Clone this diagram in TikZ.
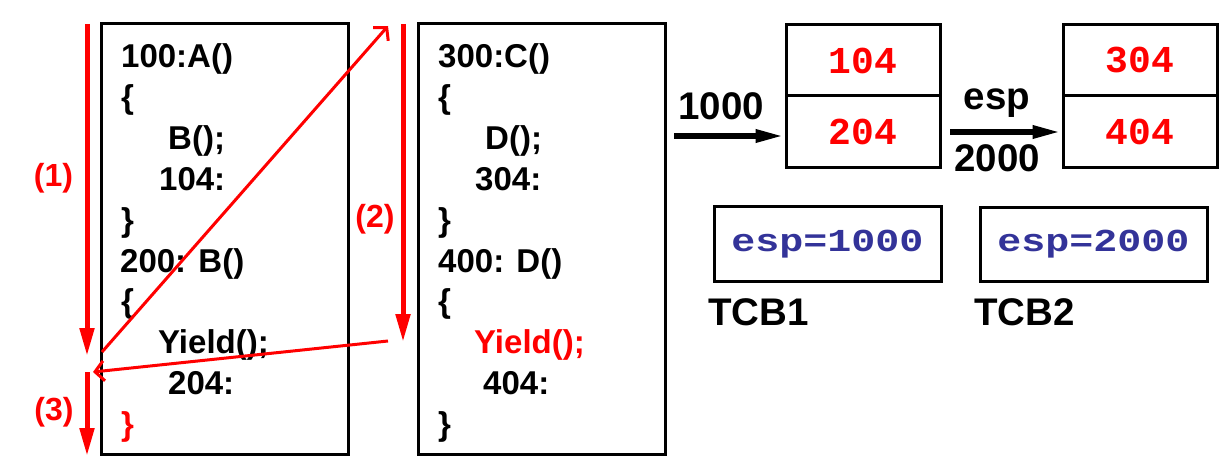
\documentclass[tikz,border=0pt]{standalone}
\usepackage{fontspec}
\setmainfont{Liberation Sans}
\setmonofont{Liberation Mono}
\usetikzlibrary{arrows.meta}
\definecolor{espblue}{RGB}{51,51,153}
\tikzset{
  code/.style={anchor=base west, inner sep=0pt, font=\fontsize{33}{33}\selectfont\bfseries},
  lbl/.style={inner sep=0pt, font=\fontsize{38.5}{38.5}\selectfont\bfseries},
  numlbl/.style={inner sep=0pt, text=red, font=\fontsize{32}{32}\selectfont\bfseries},
  codebox/.style={draw, line width=3pt},
  stackcell/.style={draw, line width=3pt, minimum width=154pt, inner sep=0pt, text=red,
    font=\fontsize{38}{38}\selectfont\ttfamily\bfseries},
  tcbbox/.style={draw, line width=3pt, minimum width=227pt, minimum height=74pt, inner sep=0pt,
    text=espblue, font=\fontsize{32}{32}\selectfont\ttfamily\bfseries},
  flowarrow/.style={draw=red, line width=5pt, -{Triangle[width=14pt,length=28pt]}},
  jumparrow/.style={draw=red, line width=3pt, -{Straight Barb[length=9pt,width=20pt,line width=3pt]}},
  esparrow/.style={draw=black, line width=6pt, -{Triangle[width=12pt,length=29pt]}},
}
\begin{document}
\begin{tikzpicture}[x=1pt,y=-1pt]
\useasboundingbox (0,0) rectangle (1231,465);

% code boxes
\node[codebox, minimum width=247pt, minimum height=430pt, inner sep=0pt] (box1) at (224.5,239) {};
\node[codebox, minimum width=247pt, minimum height=430pt, inner sep=0pt] (box2) at (541.5,239) {};

% code of box 1
\node[code] (a0) at (121,68) {100:A()};
\node[code] (a1) at (121,108.8) {\{};
\node[code] (a2) at (168,149.6) {B();};
\node[code] (a3) at (159,190.4) {104:};
\node[code] (a4) at (121,231.2) {\}};
\node[code] (a5) at (120,272) {200: B()};
\node[code] (a6) at (121,312.8) {\{};
\node[code] (a7) at (158,353.6) {Yield();};
\node[code] (a8) at (168,394.4) {204:};
\node[code, text=red] (a9) at (121,435.2) {\}};

% code of box 2
\node[code] (b0) at (438,68) {300:C()};
\node[code] (b1) at (438,108.8) {\{};
\node[code] (b2) at (485,149.6) {D();};
\node[code] (b3) at (475,190.4) {304:};
\node[code] (b4) at (438,231.2) {\}};
\node[code] (b5) at (438,272) {400: D()};
\node[code] (b6) at (438,312.8) {\{};
\node[code, text=red] (b7) at (474,353.6) {Yield();};
\node[code] (b8) at (483,394.4) {404:};
\node[code] (b9) at (438,435.2) {\}};

% flow arrows
\coordinate (f1s) at (87,24);  \coordinate (f1e) at (87,356);
\coordinate (f3s) at (87,372); \coordinate (f3e) at (87,456);
\coordinate (f2s) at (403,24); \coordinate (f2e) at (403,342);
\draw[flowarrow] (f1s) -- (f1e);
\draw[flowarrow] (f3s) -- (f3e);
\draw[flowarrow] (f2s) -- (f2e);
\node[numlbl] (n1) at (53.5,178) {(1)};
\node[numlbl] (n2) at (375,219) {(2)};
\node[numlbl] (n3) at (54,412) {(3)};

% jumps
\coordinate (j1s) at (102,352); \coordinate (j1e) at (388,26);
\coordinate (j2s) at (388,341); \coordinate (j2e) at (93,372);
\draw[jumparrow] (j1s) -- (j1e);
\draw[jumparrow] (j2s) -- (j2e);

% stacks
\node[stackcell, minimum height=71pt] (s1a) at (863,60.5) {104};
\node[stackcell, minimum height=72pt] (s1b) at (863,132) {204};
\node[stackcell, minimum height=71pt] (s2a) at (1140,60.5) {304};
\node[stackcell, minimum height=72pt] (s2b) at (1140,132) {404};

% esp arrows
\node[lbl, anchor=base west] (l1000) at (678,120) {1000};
\coordinate (e1s) at (674,136);
\draw[esparrow] (e1s) -- (s1b.west |- e1s);
\node[lbl, anchor=base] (lesp) at (997,110) {esp};
\node[lbl, anchor=base] (l2000) at (997,172) {2000};
\coordinate (e2s) at (950,132);
\draw[esparrow] (e2s) -- (s2b.west |- e2s);

% TCBs
\node[tcbbox] (t1) at (827.5,244) {\scalebox{1.25}[1]{esp=1000}};
\node[tcbbox] (t2) at (1093.5,244.5) {\scalebox{1.25}[1]{esp=2000}};
\node[lbl, anchor=base west] (tcb1) at (708,325) {TCB1};
\node[lbl, anchor=base west] (tcb2) at (974,325) {TCB2};
\end{tikzpicture}
\end{document}
